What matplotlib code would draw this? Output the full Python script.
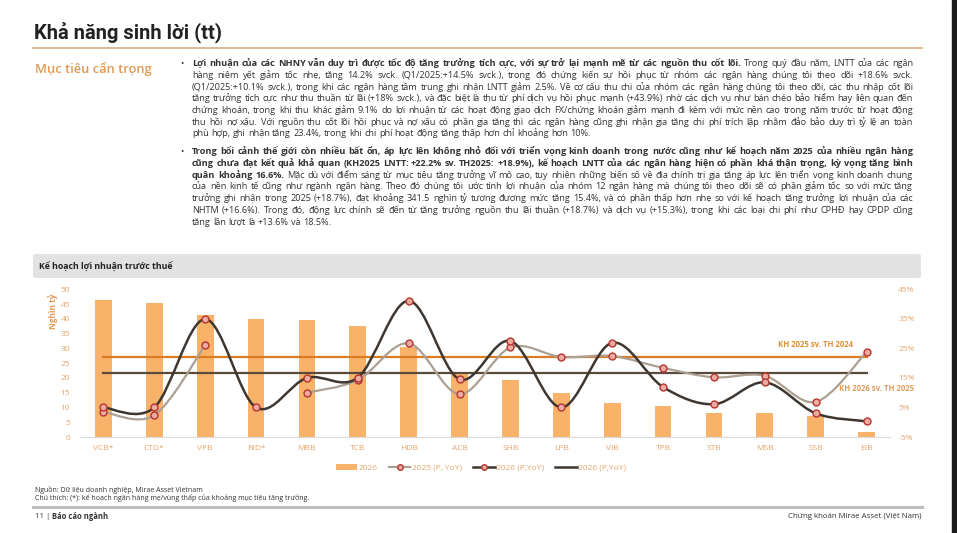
import matplotlib
matplotlib.use("Agg")
import numpy as np
import matplotlib.pyplot as plt
from matplotlib.path import Path
from matplotlib.patches import PathPatch, Patch, FancyBboxPatch, Rectangle
from matplotlib.lines import Line2D

W, H = 957, 533

# %% data
banks = ['VCB*', 'CTG*', 'VPB', 'BID*', 'MBB', 'TCB', 'HDB', 'ACB',
         'SHB', 'LPB', 'VIB', 'TPB', 'STB', 'MSB', 'SSB', 'EIB']
lnst_2026 = [46.4, 45.5, 41.2, 39.9, 39.5, 37.5, 30.4, 22.1,
             19.3, 15.0, 11.6, 10.5, 8.2, 8.2, 7.1, 1.6]          # nghìn tỷ
yoy_2025 = [3.5, 2.4, 26.1, np.nan, 10.0, 14.3, 26.7, 9.5,
            25.3, 22.1, 22.4, 18.4, 15.2, 15.7, 6.9, 23.8]         # %
yoy_2026 = [5.0, 5.0, 34.9, 5.0, 15.0, 15.1, 41.1, 14.5,
            27.5, 5.0, 26.9, 11.9, 6.1, 13.5, 3.0, 0.3]            # %
kh_2025 = 22.2
kh_2026 = 16.6
left_ticks = [0, 5, 10, 15, 20, 25, 30, 35, 40, 45, 50]
right_ticks = [-5, 5, 15, 25, 35, 45]

# %% text
bullet1 = [
    [("Lợi nhuận của các NHNY vẫn duy trì được tốc độ tăng trưởng tích cực, với sự trở lại mạnh mẽ từ các nguồn thu cốt lõi.", True),
     ("Trong quý đầu năm, LNTT của các ngân", False)],
    [("hàng niêm yết giảm tốc nhẹ, tăng 14.2% svck. (Q1/2025:+14.5% svck.), trong đó chứng kiến sự hồi phục từ nhóm các ngân hàng chúng tôi theo dõi +18.6% svck.", False)],
    [("(Q1/2025:+10.1% svck.), trong khi các ngân hàng tầm trung ghi nhận LNTT giảm 2.5%. Về cơ cấu thu chi của nhóm các ngân hàng chúng tôi theo dõi, các thu nhập cốt lõi", False)],
    [("tăng trưởng tích cực như thu thuần từ lãi (+18% svck.), và đặc biệt là thu từ phí dịch vụ hồi phục mạnh (+43.9%) nhờ các dịch vụ như bán chéo bảo hiểm hay liên quan đến", False)],
    [("chứng khoán, trong khi thu khác giảm 9.1% do lợi nhuận từ các hoạt động giao dịch FX/chứng khoán giảm mạnh đi kèm với mức nền cao trong năm trước từ hoạt động", False)],
    [("thu hồi nợ xấu. Với nguồn thu cốt lõi hồi phục và nợ xấu có phần gia tăng thì các ngân hàng cũng ghi nhận gia tăng chi phí trích lập nhằm đảo bảo duy trì tỷ lệ an toàn", False)],
    [("phù hợp, ghi nhận tăng 23.4%, trong khi chi phí hoạt động tăng thấp hơn chỉ khoảng hơn 10%.", False)],
]
bullet2 = [
    [("Trong bối cảnh thế giới còn nhiều bất ổn, áp lực lên không nhỏ đối với triển vọng kinh doanh trong nước cũng như kế hoạch năm 2025 của nhiều ngân hàng", True)],
    [("cũng chưa đạt kết quả khả quan (KH2025 LNTT: +22.2% sv. TH2025: +18.9%), kế hoạch LNTT của các ngân hàng hiện có phần khá thận trọng, kỳ vọng tăng bình", True)],
    [("quân khoảng 16.6%.", True),
     ("Mặc dù với điểm sáng từ mục tiêu tăng trưởng vĩ mô cao, tuy nhiên những biến số về địa chính trị gia tăng áp lực lên triển vọng kinh doanh chung", False)],
    [("của nền kinh tế cũng như ngành ngân hàng. Theo đó chúng tôi ước tính lợi nhuận của nhóm 12 ngân hàng mà chúng tôi theo dõi sẽ có phần giảm tốc so với mức tăng", False)],
    [("trưởng ghi nhận trong 2025 (+18.7%), đạt khoảng 341.5 nghìn tỷ tương đương mức tăng 15.4%, và có phần thấp hơn nhẹ so với kế hoạch tăng trưởng lợi nhuận của các", False)],
    [("NHTM (+16.6%). Trong đó, động lực chính sẽ đến từ tăng trưởng nguồn thu lãi thuần (+18.7%) và dịch vụ (+15.3%), trong khi các loại chi phí như CPHĐ hay CPDP cũng", False)],
    [("tăng lần lượt là +13.6% và 18.5%.", False)],
]

BODY = 'Open Sans'
TXT = '#333333'
TICK = '#E3A66C'


def fx(px):
    return px / W


def fy(py):
    return 1 - py / H


def smooth_path(xs, ys):
    pts = np.column_stack([xs, ys])
    verts = [pts[0]]
    codes = [Path.MOVETO]
    n = len(pts)
    for i in range(n - 1):
        p0 = pts[i - 1] if i > 0 else pts[i]
        p1, p2 = pts[i], pts[i + 1]
        p3 = pts[i + 2] if i + 2 < n else pts[i + 1]
        verts += [p1 + (p2 - p0) / 6, p2 - (p3 - p1) / 6, p2]
        codes += [Path.CURVE4] * 3
    return Path(verts, codes)


def runs(xs, ys):
    out, cur = [], []
    for x, y in zip(xs, ys):
        if np.isnan(y):
            if cur:
                out.append(cur)
            cur = []
        else:
            cur.append((x, y))
    if cur:
        out.append(cur)
    return out


fig = plt.figure(figsize=(W / 100, H / 100), dpi=100)
fig.patch.set_facecolor('white')
r = fig.canvas.get_renderer()

# %% header
fig.text(fx(34), fy(33), "Khả năng sinh lời (tt)", family='Roboto', fontweight='bold',
         fontsize=14.5, color='#222222', va='center')
fig.add_artist(Line2D([fx(33), fx(922)], [fy(48), fy(48)], color='#D8B48E', lw=1.3))
fig.add_artist(Rectangle((fx(952), 0), fx(5), 1, color='#1c1c1c', transform=fig.transFigure))
fig.text(fx(35), fy(69), "Mục tiêu cẩn trọng", family=BODY, fontsize=9.3,
         fontweight='semibold', color='#E09A55', va='center')


# %% justified body text
def words_of(line):
    out = []
    for txt, bold in line:
        out += [(w, bold) for w in txt.split()]
    return out


def measure(fs, line):
    ws = []
    for w, b in words_of(line):
        t = fig.text(0, 0, w, family=BODY, fontsize=fs, fontweight='bold' if b else 'normal')
        ws.append(t.get_window_extent(r).width)
        t.remove()
    return ws


def put_word(x, base_px, w, fs, weight):
    # agg snaps each word's bitmap to whole pixels; pick the anchor so all words share one baseline row
    t = fig.text(0, 0, w, family=BODY, fontsize=fs, fontweight=weight, color=TXT, va='baseline')
    _, h, d = r.get_text_width_height_descent(w, t.get_fontproperties(), ismath=False)
    Y = round(base_px) + np.floor(h) - np.floor(h - d) - d
    t.set_position((fx(x), (H - Y) / H))
    return t


x0, x1 = 192, 913
fs = 6.6
gap0 = lambda f: f * 100 / 72 * 0.26
worst = max((sum(measure(fs, ln)) + gap0(fs) * (len(words_of(ln)) - 1)) / (x1 - x0)
            for ln in bullet1[:-1] + bullet2[:-1])
if worst > 1:
    fs = fs / worst * 0.985


def draw_para(lines, ys):
    put_word(180, ys[0] + 3, "•", fs, 'normal')
    for k, (ln, y) in enumerate(zip(lines, ys)):
        wd = words_of(ln)
        ws = measure(fs, ln)
        last = k == len(lines) - 1
        gap = gap0(fs) if last else (x1 - x0 - sum(ws)) / (len(ws) - 1)
        x = x0
        for (w, b), wpx in zip(wd, ws):
            put_word(x, y + 3, w, fs, 'bold' if b else 'normal')
            x += wpx + gap


draw_para(bullet1, [62.7, 74.7, 86.5, 98.3, 110.0, 121.7, 133.5])
draw_para(bullet2, [151.0, 162.8, 174.6, 186.4, 198.2, 210.0, 222.0])

# %% chart panel
fig.add_artist(FancyBboxPatch((fx(33), fy(278)), fx(888), fy(254) - fy(278),
                              boxstyle='round,pad=0,rounding_size=0.004',
                              transform=fig.transFigure, facecolor='#E2E2E2', edgecolor='none'))
fig.text(fx(39), fy(266.5), "Kế hoạch lợi nhuận trước thuế", family=BODY, fontsize=6.3,
         fontweight='bold', color='#222222', va='center')

ax = fig.add_axes([fx(80), fy(437), fx(890 - 80), fy(289.3) - fy(437)])
x = np.arange(len(banks))
ax.bar(x, lnst_2026, width=0.33, color='#F9B26A', zorder=1)
ax.set_xlim(-0.46, 15.46)
ax.set_ylim(0, 50)
ax.set_yticks(left_ticks)
ax.set_xticks(x, banks)
ax.tick_params(length=0, labelsize=6, labelcolor=TICK)
ax.tick_params(axis='y', pad=7)
ax.tick_params(axis='x', pad=6)
for s in ['top', 'left', 'right']:
    ax.spines[s].set_visible(False)
ax.spines['bottom'].set_color('#DADADA')
for lab in ax.get_xticklabels() + ax.get_yticklabels():
    lab.set_family(BODY)

ax2 = ax.twinx()
ax2.set_ylim(-5, 45)
ax2.set_yticks(right_ticks, [f"{v}%" for v in right_ticks])
ax2.tick_params(length=0, labelsize=6, labelcolor=TICK, pad=6)
for lab in ax2.get_yticklabels():
    lab.set_family(BODY)
for s in ax2.spines.values():
    s.set_visible(False)

ax2.plot(x, [kh_2025] * len(x), color='#DE7A22', lw=1.6, zorder=2)
ax2.plot(x, [kh_2026] * len(x), color='#5A4A3C', lw=1.6, zorder=2)

LIGHT, DARK = '#ABA092', '#3E3731'
MFACE, MEDGE = '#EDAAA2', '#B5352D'
for seg in runs(x, yoy_2025):
    sx, sy = zip(*seg)
    ax2.add_patch(PathPatch(smooth_path(sx, sy), fill=False, edgecolor=LIGHT, lw=1.6, zorder=3))
ax2.add_patch(PathPatch(smooth_path(x, yoy_2026), fill=False, edgecolor=DARK, lw=1.8, zorder=4))
ax2.plot(x, yoy_2025, 'o', ms=5, mfc=MFACE, mec=MEDGE, mew=1, zorder=5)
ax2.plot(x, yoy_2026, 'o', ms=5, mfc=MFACE, mec=MEDGE, mew=1, zorder=6)

ax2.text(14.74, 26.4, "KH 2025 sv. TH 2024", ha='right', va='center', fontsize=5.6,
         fontweight='bold', color='#E08E35', family=BODY, zorder=7)
ax2.text(14.45, 11.4, "KH 2026 sv. TH 2025", ha='left', va='center', fontsize=5.6,
         fontweight='bold', color='#DCA05E', family=BODY, zorder=7, clip_on=False)

fig.text(fx(53), fy(311), "Nghìn tỷ", rotation=90, ha='center', va='center',
         fontsize=6, color='#E59A55', family=BODY, fontweight='bold')

handles = [
    Patch(facecolor='#F9B26A'),
    Line2D([], [], color=LIGHT, lw=1.6, marker='o', ms=4, mfc=MFACE, mec=MEDGE),
    Line2D([], [], color=DARK, lw=1.8, marker='o', ms=4, mfc=MFACE, mec=MEDGE),
    Line2D([], [], color=DARK, lw=1.8),
]
labels = ['2026', '2025 (P, YoY)', '2026 (P,YoY)', '2026 (P,YoY)']
fig.legend(handles, labels, loc='center', bbox_to_anchor=(fx(481), fy(468)), ncol=4,
           frameon=False, prop={'family': BODY, 'size': 6}, labelcolor=TICK,
           handlelength=2.6, handleheight=0.6, handletextpad=0.2, columnspacing=1.3)

# %% footer
fig.text(fx(35), fy(490), "Nguồn: Dữ liệu doanh nghiệp, Mirae Asset Vietnam",
         family=BODY, fontsize=5, color='#333333', va='center')
fig.text(fx(35), fy(498.5), "Chú thích: (*): kế hoạch ngân hàng mẹ/vùng thấp của khoảng mục tiêu tăng trưởng.",
         family=BODY, fontsize=5, color='#333333', va='center')
fig.add_artist(Line2D([fx(33), fx(922)], [fy(507), fy(507)], color='#BEBEBE', lw=2.2))
t = fig.text(fx(35), fy(516.5), "11 | ", family=BODY, fontsize=5.5, color='#333333', va='center')
wpx = t.get_window_extent(r).width
fig.text(fx(35 + wpx), fy(516.5), "Báo cáo ngành", family=BODY, fontsize=5.5,
         fontweight='bold', color='#333333', va='center')
fig.text(fx(921), fy(516.5), "Chứng khoán Mirae Asset (Việt Nam)", family=BODY, fontsize=5.7,
         color='#333333', va='center', ha='right')

fig.savefig("out.png", dpi=100)
